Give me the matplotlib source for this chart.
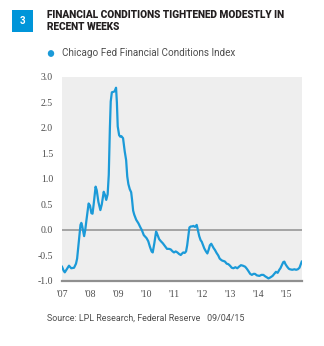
import matplotlib.pyplot as plt
from matplotlib.patches import Rectangle

# Chicago Fed Financial Conditions Index, time in decimal years
years = [2007.00, 2007.06, 2007.10, 2007.18, 2007.25, 2007.33, 2007.43, 2007.50, 2007.54, 2007.60,
         2007.66, 2007.69, 2007.72, 2007.79, 2007.83, 2007.87, 2007.95, 2008.00, 2008.05, 2008.09,
         2008.13, 2008.20, 2008.24, 2008.30, 2008.37, 2008.42, 2008.49, 2008.54, 2008.58, 2008.63,
         2008.67, 2008.71, 2008.74, 2008.78, 2008.84, 2008.88, 2008.93, 2008.96, 2008.99, 2009.04,
         2009.08, 2009.12, 2009.18, 2009.24, 2009.29, 2009.33, 2009.37, 2009.42, 2009.47, 2009.50,
         2009.54, 2009.58, 2009.65, 2009.73, 2009.80, 2009.85, 2009.92, 2010.02, 2010.08, 2010.14,
         2010.20, 2010.24, 2010.30, 2010.36, 2010.40, 2010.47, 2010.53, 2010.60, 2010.68, 2010.75,
         2010.82, 2010.88, 2010.95, 2011.00, 2011.06, 2011.12, 2011.18, 2011.24, 2011.29, 2011.33,
         2011.38, 2011.43, 2011.47, 2011.51, 2011.55, 2011.60, 2011.65, 2011.69, 2011.75, 2011.81,
         2011.85, 2011.90, 2011.95, 2011.99, 2012.04, 2012.08, 2012.14, 2012.19, 2012.24, 2012.28,
         2012.33, 2012.38, 2012.42, 2012.46, 2012.52, 2012.58, 2012.63, 2012.67, 2012.72, 2012.78,
         2012.82, 2012.88, 2012.94, 2013.00, 2013.06, 2013.12, 2013.19, 2013.26, 2013.32, 2013.39,
         2013.46, 2013.54, 2013.60, 2013.65, 2013.72, 2013.78, 2013.84, 2013.89, 2013.96, 2014.05,
         2014.12, 2014.19, 2014.26, 2014.32, 2014.37, 2014.44, 2014.52, 2014.58, 2014.64, 2014.70,
         2014.76, 2014.80, 2014.84, 2014.90, 2014.94, 2014.98, 2015.04, 2015.10, 2015.14, 2015.22,
         2015.30, 2015.36, 2015.42, 2015.48, 2015.52, 2015.56]
nfci = [-0.72, -0.80, -0.83, -0.76, -0.70, -0.75, -0.74, -0.66, -0.56, -0.23,
        0.10, 0.14, 0.08, -0.12, 0.00, 0.18, 0.52, 0.48, 0.33, 0.32,
        0.50, 0.85, 0.78, 0.55, 0.39, 0.50, 0.75, 0.68, 0.59, 0.70,
        1.08, 2.00, 2.52, 2.70, 2.71, 2.72, 2.79, 2.50, 2.03, 1.86,
        1.83, 1.84, 1.80, 1.54, 1.37, 1.05, 0.90, 0.80, 0.74, 0.60,
        0.38, 0.30, 0.20, 0.13, 0.05, 0.00, -0.10, -0.16, -0.22, -0.33,
        -0.42, -0.44, -0.25, -0.03, -0.08, -0.18, -0.22, -0.26, -0.32, -0.37,
        -0.37, -0.38, -0.42, -0.44, -0.42, -0.44, -0.47, -0.49, -0.46, -0.44,
        -0.45, -0.42, -0.30, -0.13, 0.05, 0.07, 0.07, 0.08, 0.06, 0.10,
        0.00, -0.12, -0.20, -0.23, -0.30, -0.36, -0.42, -0.46, -0.38, -0.30,
        -0.27, -0.32, -0.36, -0.39, -0.45, -0.50, -0.56, -0.58, -0.60, -0.61,
        -0.62, -0.66, -0.67, -0.70, -0.74, -0.75, -0.73, -0.75, -0.72, -0.69,
        -0.70, -0.72, -0.76, -0.80, -0.86, -0.88, -0.86, -0.86, -0.89, -0.90,
        -0.88, -0.88, -0.91, -0.93, -0.95, -0.93, -0.90, -0.86, -0.82, -0.84,
        -0.78, -0.75, -0.70, -0.63, -0.62, -0.67, -0.72, -0.76, -0.77, -0.78,
        -0.77, -0.78, -0.77, -0.74, -0.68, -0.62]

tick_years = [2007, 2008, 2009, 2010, 2011, 2012, 2013, 2014, 2015]
tick_labels = ["'07", "'08", "'09", "'10", "'11", "'12", "'13", "'14", "'15"]
y_ticks = [-1.0, -0.5, 0.0, 0.5, 1.0, 1.5, 2.0, 2.5, 3.0]

BLUE = '#1b9ad8'
W, H = 324, 346
serif = ['Liberation Serif', 'DejaVu Serif']
sans = ['Roboto', 'DejaVu Sans']

fig = plt.figure(figsize=(W / 100, H / 100), dpi=100)
renderer = fig.canvas.get_renderer()

def fx(px):
    return px / W

def fy(py):
    return 1 - py / H

def fit_text(x, y, s, width, size, **kw):
    # shrink font until text spans about `width` pixels
    t = fig.text(fx(x), fy(y), s, fontsize=size, va='center', family=sans, **kw)
    w = t.get_window_extent(renderer).width
    if w > width:
        t.set_fontsize(size * width / w)
    return t

# chart number badge and title
fig.patches.append(Rectangle((fx(12), fy(32)), fx(21), 22 / H, transform=fig.transFigure,
                             facecolor='#0095d9', edgecolor='none'))
fig.text(fx(22.5), fy(21), '3', color='white', fontsize=7, fontweight='bold',
         family=sans, ha='center', va='center')
fit_text(47, 15.5, 'FINANCIAL CONDITIONS TIGHTENED MODESTLY IN', 239, 8,
         fontweight='heavy', color='#231f20')
fit_text(47, 27.5, 'RECENT WEEKS', 74, 8, fontweight='heavy', color='#231f20')

# legend
fig.patches.append(plt.Circle((fx(51), fy(53.5)), 3.2 / W, transform=fig.transFigure,
                              facecolor=BLUE, edgecolor='none'))
fit_text(62, 53.5, 'Chicago Fed Financial Conditions Index', 173, 7.2, color='#4d4d4d')

ax = fig.add_axes([fx(62), fy(281), (302 - 62) / W, (281 - 77) / H])
ax.set_facecolor('#eeeeee')
ax.plot(years, nfci, color=BLUE, lw=1.6, solid_joinstyle='round')
ax.axhline(0, color='#8f8f8f', lw=1.1, zorder=1)
ax.axhline(-1.0, color='#8f8f8f', lw=1.6, zorder=1, clip_on=False)

ax.set_xlim(2007.0, 2015.57)
ax.set_ylim(-1.0, 3.0)
ax.set_xticks(tick_years)
ax.set_xticklabels(tick_labels)
ax.set_yticks(y_ticks)
ax.set_yticklabels(['%.1f' % v for v in y_ticks])
ax.tick_params(length=0, labelsize=7, colors='#4d4d4d')
ax.tick_params(axis='y', pad=6.5)
ax.tick_params(axis='x', pad=6.5)
for lab in ax.get_xticklabels() + ax.get_yticklabels():
    lab.set_family(serif)
for s in ax.spines.values():
    s.set_visible(False)

fit_text(47, 318, 'Source: LPL Research, Federal Reserve   09/04/15', 199, 7.2, color='#4d4d4d')

fig.savefig('out.png', dpi=100)
